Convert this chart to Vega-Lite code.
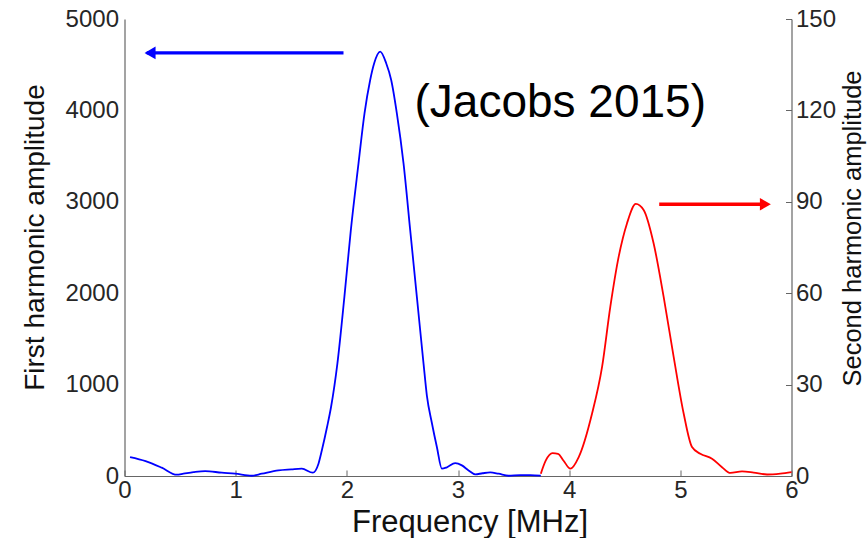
{
  "$schema": "https://vega.github.io/schema/vega-lite/v6.json",
  "width": 667,
  "height": 457,
  "autosize": {"type": "none"},
  "padding": {"left": 124.5, "top": 19, "right": 76.5, "bottom": 62},
  "background": "white",
  "config": {
    "view": {"stroke": null},
    "font": "Liberation Sans",
    "axis": {
      "grid": false,
      "domainColor": "#666666",
      "domainWidth": 1.2,
      "tickColor": "#666666",
      "labelColor": "#262626",
      "titleColor": "#111111",
      "labelFont": "Liberation Sans",
      "titleFont": "Liberation Sans",
      "titleFontWeight": "normal",
      "labelOverlap": false
    }
  },
  "datasets": {
    "first": [
      {"f": 0.05, "a": 207}, {"f": 0.19, "a": 163}, {"f": 0.335, "a": 91}, {"f": 0.47, "a": 14},
      {"f": 0.53, "a": 25}, {"f": 0.62, "a": 42}, {"f": 0.725, "a": 54}, {"f": 0.875, "a": 36},
      {"f": 0.995, "a": 25}, {"f": 1.145, "a": 3}, {"f": 1.235, "a": 25}, {"f": 1.385, "a": 61},
      {"f": 1.5, "a": 72}, {"f": 1.595, "a": 80}, {"f": 1.694, "a": 36}, {"f": 1.745, "a": 135},
      {"f": 1.777, "a": 290}, {"f": 1.822, "a": 536}, {"f": 1.858, "a": 755}, {"f": 1.915, "a": 1230},
      {"f": 1.978, "a": 1960}, {"f": 2.036, "a": 2690}, {"f": 2.105, "a": 3420}, {"f": 2.159, "a": 3968},
      {"f": 2.21, "a": 4333}, {"f": 2.246, "a": 4516}, {"f": 2.3, "a": 4643}, {"f": 2.354, "a": 4516},
      {"f": 2.399, "a": 4333}, {"f": 2.45, "a": 3968}, {"f": 2.51, "a": 3420}, {"f": 2.57, "a": 2690},
      {"f": 2.63, "a": 1960}, {"f": 2.69, "a": 1230}, {"f": 2.72, "a": 880}, {"f": 2.765, "a": 580},
      {"f": 2.81, "a": 317}, {"f": 2.855, "a": 80}, {"f": 2.9, "a": 95}, {"f": 2.975, "a": 141},
      {"f": 3.035, "a": 116}, {"f": 3.095, "a": 61}, {"f": 3.155, "a": 18}, {"f": 3.22, "a": 30},
      {"f": 3.29, "a": 39}, {"f": 3.365, "a": 25}, {"f": 3.455, "a": 3}, {"f": 3.56, "a": 10},
      {"f": 3.65, "a": 10}, {"f": 3.745, "a": 3}
    ],
    "second": [
      {"f": 3.745, "a": 0.75}, {"f": 3.79, "a": 5.1}, {"f": 3.85, "a": 7.5}, {"f": 3.9, "a": 7.3},
      {"f": 3.95, "a": 5}, {"f": 4.011, "a": 2.4}, {"f": 4.086, "a": 6.2}, {"f": 4.206, "a": 20.5},
      {"f": 4.296, "a": 35.8}, {"f": 4.37, "a": 55.5}, {"f": 4.445, "a": 71.9}, {"f": 4.52, "a": 82.9},
      {"f": 4.6, "a": 89.3}, {"f": 4.67, "a": 87.3}, {"f": 4.76, "a": 76.3}, {"f": 4.85, "a": 58.8},
      {"f": 4.94, "a": 39.1}, {"f": 5.03, "a": 20.5}, {"f": 5.105, "a": 9.5}, {"f": 5.18, "a": 7.3},
      {"f": 5.285, "a": 5.7}, {"f": 5.375, "a": 2.9}, {"f": 5.45, "a": 1.0}, {"f": 5.555, "a": 1.5},
      {"f": 5.66, "a": 1.1}, {"f": 5.78, "a": 0.5}, {"f": 5.9, "a": 0.8}, {"f": 6.0, "a": 1.3}
    ],
    "leftArrow": [{"f": 1.97, "f2": 0.2, "a": 4629}],
    "leftHead": [{"f": 0.23, "a": 4629}],
    "rightArrow": [{"f": 4.81, "f2": 5.72, "a": 89.2}],
    "rightHead": [{"f": 5.765, "a": 89.2}],
    "note": [{"f": 3.92, "a": 4081, "label": "(Jacobs 2015)"}]
  },
  "encoding": {
    "x": {
      "field": "f", "type": "quantitative",
      "scale": {"domain": [0, 6], "nice": false, "zero": false},
      "axis": {
        "title": "Frequency [MHz]", "values": [0, 1, 2, 3, 4, 5, 6], "format": "d",
        "labelFlush": false, "tickSize": -6, "labelPadding": 8,
        "labelFontSize": 24, "titleFontSize": 31, "titlePadding": 5, "titleX": 345
      }
    }
  },
  "layer": [
    {
      "encoding": {
        "y": {
          "field": "a", "type": "quantitative",
          "scale": {"domain": [0, 5000], "nice": false},
          "axis": {
            "title": "First harmonic amplitude", "values": [0, 1000, 2000, 3000, 4000, 5000],
            "format": "d", "ticks": false, "labelPadding": 6, "labelFlush": false,
            "labelFontSize": 24, "titleFontSize": 28, "titlePadding": 16, "titleY": 218
          }
        }
      },
      "layer": [
        {
          "data": {"name": "first"},
          "mark": {"type": "line", "color": "#0000ff", "strokeWidth": 1.8, "interpolate": "monotone"}
        },
        {
          "data": {"name": "leftArrow"},
          "mark": {"type": "rule", "color": "#0000ff", "strokeWidth": 3.3},
          "encoding": {"x2": {"field": "f2"}}
        },
        {
          "data": {"name": "leftHead"},
          "mark": {"type": "point", "shape": "triangle-left", "filled": true, "color": "#0000ff", "size": 160, "opacity": 1}
        },
        {
          "data": {"name": "note"},
          "mark": {"type": "text", "fontSize": 46, "font": "Liberation Sans", "color": "#000000", "align": "center", "baseline": "middle"},
          "encoding": {"text": {"field": "label"}}
        }
      ]
    },
    {
      "encoding": {
        "y": {
          "field": "a", "type": "quantitative",
          "scale": {"domain": [0, 150], "nice": false},
          "axis": {
            "orient": "right", "title": "Second harmonic amplitude",
            "values": [0, 30, 60, 90, 120, 150], "format": "d",
            "tickSize": -6, "labelPadding": 10, "labelFlush": false,
            "labelFontSize": 24, "titleFontSize": 25.5, "titlePadding": 5,
            "titleAngle": -90, "titleBaseline": "top", "titleY": 209
          }
        }
      },
      "layer": [
        {
          "data": {"name": "second"},
          "mark": {"type": "line", "color": "#ff0000", "strokeWidth": 1.8, "interpolate": "monotone"}
        },
        {
          "data": {"name": "rightArrow"},
          "mark": {"type": "rule", "color": "#ff0000", "strokeWidth": 3.3},
          "encoding": {"x2": {"field": "f2"}}
        },
        {
          "data": {"name": "rightHead"},
          "mark": {"type": "point", "shape": "triangle-right", "filled": true, "color": "#ff0000", "size": 160, "opacity": 1}
        }
      ]
    }
  ],
  "resolve": {"scale": {"y": "independent"}, "axis": {"y": "independent"}}
}
